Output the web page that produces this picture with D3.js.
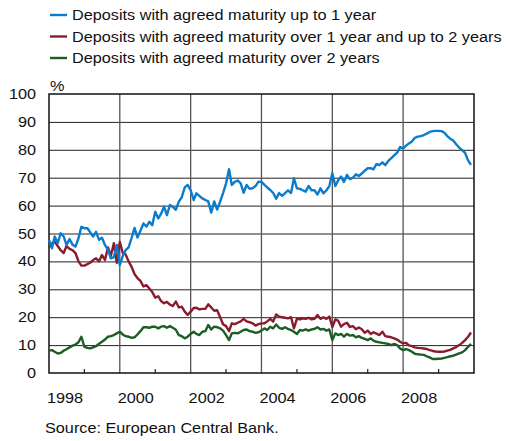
<!DOCTYPE html>
<html>
<head>
<meta charset="utf-8">
<script src="https://cdn.jsdelivr.net/npm/d3@7"></script>
<style>
  html, body { margin: 0; padding: 0; background: #fff; }
  svg { display: block; font-family: "Liberation Sans", Arial, sans-serif; }
</style>
</head>
<body>
<svg id="chart" width="506" height="441"></svg>
<script>
// Monthly observations, January 1998 to December 2009 (percent)
const startMonth = new Date(1998, 0, 1);

const upTo1Year = [
  47.7, 44.7, 48.9, 46.5, 50.1, 49.0, 45.9, 48.0, 46.0, 45.3, 48.3, 52.4,
  51.9, 51.9, 50.5, 48.9, 50.6, 47.7, 48.5, 45.9, 44.1, 41.1, 41.5, 45.9,
  38.7, 42.0, 44.0, 45.0, 48.3, 52.0, 48.6, 51.0, 53.6, 52.5, 54.2, 53.0,
  57.8, 55.4, 57.0, 59.6, 56.6, 60.2, 59.5, 58.5, 61.4, 63.0, 66.5, 67.4,
  65.5, 62.0, 64.4, 63.5, 62.6, 62.0, 61.5, 57.5, 61.5, 58.6, 61.4, 64.5,
  68.0, 73.0, 67.4, 68.5, 69.0, 68.0, 64.6, 67.4, 66.0, 66.2, 67.0, 68.6,
  68.5, 67.4, 66.5, 65.6, 64.5, 62.5, 64.5, 63.5, 64.5, 65.5, 64.5, 69.8,
  66.2, 66.0, 65.5, 65.0, 67.0, 65.5, 65.5, 64.0, 66.2, 64.4, 65.5, 67.0,
  71.6, 67.0, 69.0, 70.4, 68.5, 71.0, 69.5, 70.0, 71.2, 70.6, 71.5, 72.5,
  73.4, 73.4, 73.0, 74.9, 74.5, 75.5, 74.5, 76.0, 77.0, 78.0, 79.0, 81.0,
  80.5, 81.5, 82.3, 83.0, 84.3, 84.7, 84.9, 85.3, 85.8, 86.4, 86.7, 86.8,
  86.8, 86.7, 86.1, 84.9, 84.0, 83.3, 82.0, 80.8, 79.9, 78.9, 76.2, 74.6
];

const over1UpTo2Years = [
  45.0, 46.5, 47.0, 45.5, 44.0, 43.0, 45.5, 44.5, 44.0, 43.0, 40.0, 38.5,
  38.5, 39.0, 39.5, 40.5, 41.1, 40.0, 42.3, 40.5, 45.0, 42.0, 46.5, 39.5,
  47.0, 43.0, 42.5, 40.0, 38.1, 35.5, 34.0, 33.0, 31.0, 31.5, 30.3, 29.0,
  27.0, 27.5, 25.8, 25.0, 25.5, 24.5, 24.0, 25.6, 23.5, 23.8, 22.0, 20.8,
  22.0, 23.3, 23.4, 22.8, 23.0, 23.0, 24.6, 23.5, 22.3, 22.5, 20.0, 17.5,
  16.8, 15.0, 17.8, 17.5, 18.0, 18.5, 19.4, 18.5, 18.2, 17.8, 17.0, 17.5,
  17.8, 17.8, 18.5, 19.4, 18.4, 21.0, 20.2, 20.0, 19.8, 19.6, 20.0, 16.0,
  19.5, 19.2, 19.6, 19.4, 19.8, 19.2, 19.4, 20.8, 19.4, 20.0, 19.4, 20.2,
  16.5, 19.2, 18.8, 16.6, 17.5, 18.0, 16.5, 16.8, 15.7, 16.3, 15.7, 14.4,
  15.2, 14.0, 14.6, 14.1, 13.6, 14.8, 13.2, 13.0, 12.8, 12.4, 12.0, 11.2,
  10.6, 10.8, 9.9, 9.6, 9.2, 9.0, 8.9, 8.8, 8.6, 8.2, 7.9, 7.7,
  7.6, 7.6, 7.7, 8.0, 8.3, 8.8, 9.3, 10.0, 10.8, 11.8, 13.0, 14.5
];

const over2Years = [
  8.0, 8.2, 7.6, 7.0, 7.2, 8.0, 8.5, 9.2, 9.8, 10.2, 11.0, 13.0,
  9.4, 9.0, 8.8, 9.2, 9.6, 10.5, 11.2, 12.0, 13.0, 13.2, 13.6, 14.2,
  14.8, 13.8, 13.2, 13.0, 12.6, 12.8, 13.8, 15.0, 16.4, 16.4, 16.2, 16.6,
  16.6, 16.0, 16.6, 16.8, 16.2, 16.8, 16.2, 15.5, 13.6, 13.2, 12.4, 13.0,
  14.0, 14.8, 14.0, 13.6, 14.8, 15.0, 17.2, 15.6, 16.6, 16.4, 16.0, 15.2,
  13.6, 11.8, 14.2, 14.4, 14.2, 14.8, 15.4, 15.6, 15.0, 14.8, 14.4, 14.6,
  15.2, 16.0, 15.4, 16.6, 16.0, 17.4, 16.2, 15.8, 16.4, 15.8, 15.4, 14.8,
  14.0, 15.4, 15.2, 15.6, 15.2, 15.6, 15.8, 16.4, 15.6, 15.8, 15.2, 15.6,
  11.8, 14.2, 13.6, 14.0, 13.0, 14.0, 13.4, 13.6, 12.8, 13.2, 12.6, 12.2,
  11.8, 12.4, 11.6, 11.2, 11.0, 10.8, 10.6, 10.4, 10.0, 10.4, 10.0, 8.8,
  8.2, 8.6, 8.2, 7.6, 6.9, 6.7, 6.6, 6.5, 6.0, 5.6, 5.0, 5.0,
  5.1, 5.2, 5.4, 5.7, 6.0, 6.2, 6.6, 7.0, 7.4, 8.2, 9.4, 10.4
];

const seriesNames = [
  "Deposits with agreed maturity up to 1 year",
  "Deposits with agreed maturity over 1 year and up to 2 years",
  "Deposits with agreed maturity over 2 years"
];
const seriesColors = ["#0a7cce", "#8a1b2d", "#1c5d25"];
const yTicks = [0, 10, 20, 30, 40, 50, 60, 70, 80, 90, 100];
const yearLabels = [1998, 2000, 2002, 2004, 2006, 2008];
const oddYears = [1999, 2001, 2003, 2005, 2007, 2009];
const unitLabel = "%";
const sourceNote = "Source: European Central Bank.";

const svg = d3.select("#chart");
const plot = { left: 49, right: 474, top: 94, bottom: 373 };
const fontSize = 14;
const stretch = 1.16; // lettering is set slightly wide

const x = d3.scaleTime()
  .domain([new Date(1998, 0, 1), new Date(2010, 0, 1)])
  .range([plot.left, plot.right]);
const y = d3.scaleLinear().domain([0, 100]).range([plot.bottom, plot.top]);

const months = upTo1Year.map((_, i) => d3.timeMonth.offset(startMonth, i));

// Places a widened text label at (tx, ty)
function label(parent, tx, ty, str, anchor, dy) {
  const g = parent.append("g")
    .attr("transform", `translate(${tx},${ty}) scale(${stretch},1)`);
  g.append("text")
    .attr("text-anchor", anchor || "start")
    .attr("dy", dy || 0)
    .attr("font-size", fontSize)
    .attr("fill", "#111")
    .text(str);
  return g;
}

// Horizontal gridlines
svg.append("g")
  .selectAll("line")
  .data(yTicks.filter(v => v > 0 && v < 100))
  .join("line")
  .attr("x1", plot.left).attr("x2", plot.right)
  .attr("y1", d => y(d) + 0.5).attr("y2", d => y(d) + 0.5)
  .attr("stroke", "#222").attr("stroke-width", 1);

// Vertical gridlines at even years
svg.append("g")
  .selectAll("line")
  .data(yearLabels.filter(yr => yr > 1998))
  .join("line")
  .attr("x1", d => x(new Date(d, 0, 1))).attr("x2", d => x(new Date(d, 0, 1)))
  .attr("y1", plot.top).attr("y2", plot.bottom)
  .attr("stroke", "#555").attr("stroke-width", 1.3);

// Minor ticks at odd years
svg.append("g")
  .selectAll("line")
  .data(oddYears)
  .join("line")
  .attr("x1", d => x(new Date(d, 0, 1))).attr("x2", d => x(new Date(d, 0, 1)))
  .attr("y1", plot.bottom - 4).attr("y2", plot.bottom)
  .attr("stroke", "#222").attr("stroke-width", 1.2);

// Plot frame
svg.append("rect")
  .attr("x", plot.left).attr("y", plot.top)
  .attr("width", plot.right - plot.left).attr("height", plot.bottom - plot.top)
  .attr("fill", "none").attr("stroke", "#111").attr("stroke-width", 1.5);

// Series lines
const line = d3.line()
  .x((d, i) => x(months[i]))
  .y(d => y(d));

const allSeries = [upTo1Year, over1UpTo2Years, over2Years];
// green first, then red, then blue on top
[2, 1, 0].forEach(k => {
  svg.append("path")
    .datum(allSeries[k])
    .attr("d", line)
    .attr("fill", "none")
    .attr("stroke", seriesColors[k])
    .attr("stroke-width", 2.4)
    .attr("stroke-linejoin", "round");
});

// Y tick labels
const yLab = svg.append("g");
yTicks.forEach(v => label(yLab, 36, y(v), v, "end", "0.36em"));

// Year labels
const xLab = svg.append("g");
yearLabels.forEach(yr => label(xLab, x(new Date(yr, 0, 1)) + 16, 403, yr, "middle"));

// Unit label
label(svg, 50, 91, unitLabel);

// Legend
const legend = svg.append("g");
seriesNames.forEach((name, i) => {
  const ly = 15 + i * 21.5;
  legend.append("line")
    .attr("x1", 50).attr("x2", 67)
    .attr("y1", ly).attr("y2", ly)
    .attr("stroke", seriesColors[i]).attr("stroke-width", 2.4);
  label(legend, 72, ly, name, "start", "0.36em");
});

// Source note
label(svg, 45, 433, sourceNote);
</script>
</body>
</html>
